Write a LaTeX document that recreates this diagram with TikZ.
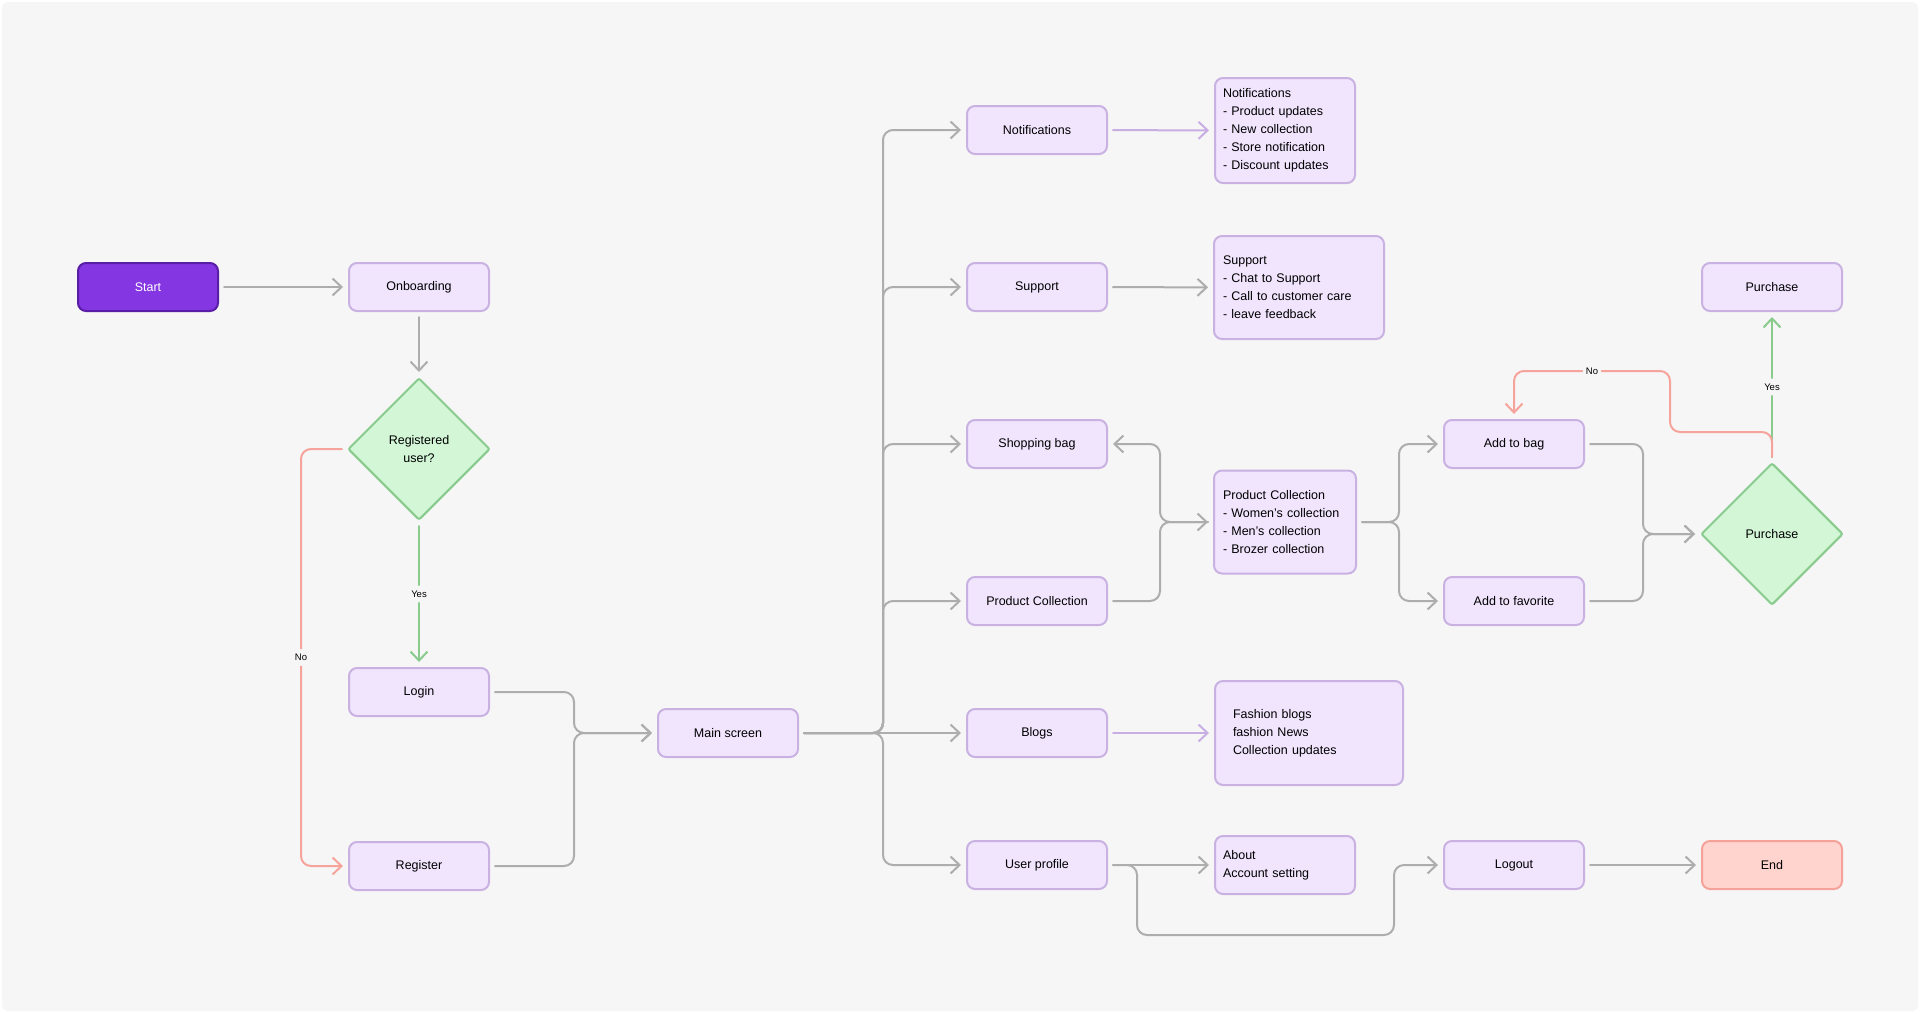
\documentclass[tikz,border=0pt]{standalone}
\usepackage{fontspec}
\setmainfont{Liberation Sans}
\usetikzlibrary{positioning,shapes.geometric,arrows.meta,calc}
\definecolor{bgc}{HTML}{F6F6F6}
\definecolor{boxfill}{HTML}{F1E4FD}
\definecolor{boxline}{HTML}{C9B2E2}
\definecolor{startfill}{HTML}{8436E2}
\definecolor{startline}{HTML}{5A1EA6}
\definecolor{decfill}{HTML}{D2F6D6}
\definecolor{decline}{HTML}{88CB8D}
\definecolor{endfill}{HTML}{FFD3CE}
\definecolor{endline}{HTML}{F5A39A}
\definecolor{flowgray}{HTML}{ADADAD}
\definecolor{flowred}{HTML}{F6A49B}
\definecolor{flowlilac}{HTML}{C8AEE3}
\tikzset{every picture/.style={>={Straight Barb[length=9pt,width=17pt]},line width=2pt}}
\tikzset{screen/.style={draw=boxline,fill=boxfill,rounded corners=8pt,minimum width=140pt,minimum height=48pt,font=\fontsize{12.5}{18}\selectfont}}
\tikzset{startbox/.style={screen,draw=startline,fill=startfill,text=white}}
\tikzset{endbox/.style={screen,draw=endline,fill=endfill}}
\tikzset{decision/.style={diamond,aspect=1,draw=decline,fill=decfill,minimum width=142pt,minimum height=142pt,inner sep=0pt,rounded corners=2pt,align=center,font=\fontsize{12.5}{18}\selectfont}}
\tikzset{detail/.style={screen,align=left}}
\tikzset{flow/.style={draw=flowgray,->,rounded corners=10pt,shorten >=5pt,shorten <=5pt,line cap=round}}
\tikzset{flowno/.style={flow,draw=flowred}}
\tikzset{flowyes/.style={flow,draw=decline}}
\tikzset{flowinfo/.style={flow,draw=flowlilac}}
\tikzset{tag/.style={fill=bgc,inner xsep=3pt,inner ysep=5pt,font=\fontsize{9.5}{10}\selectfont}}

\begin{document}
\begin{tikzpicture}[x=1pt,y=-1pt]
  \useasboundingbox (0,0) rectangle (1920,1013);
  \fill[white] (0,0) rectangle (1920,1013);
  \fill[bgc,rounded corners=6pt] (2,2) rectangle (1918,1011);

  % left part
  \node[startbox] (start) at (148,287) {Start};
  \node[screen] (onboard) at (419,287) {Onboarding};
  \node[decision] (registered) at (419,449) {Registered\\user?};
  \node[screen] (login) at (419,692) {Login};
  \node[screen] (register) at (419,866) {Register};
  \node[screen] (mainscreen) at (728,733) {Main screen};

  % menu
  \node[screen] (notif) at (1037,130) {Notifications};
  \node[screen] (support) at (1037,287) {Support};
  \node[screen] (bag) at (1037,444) {Shopping bag};
  \node[screen] (collection) at (1037,601) {Product Collection};
  \node[screen] (blogs) at (1037,733) {Blogs};
  \node[screen] (profile) at (1037,865) {User profile};

  % details
  \node[detail,text width=124pt,inner xsep=8pt,minimum height=105pt] (notifinfo) at (1285,130.5)
    {Notifications\\- Product updates\\- New collection\\- Store notification\\- Discount updates};
  \node[detail,text width=152pt,inner xsep=9pt,minimum height=103pt] (supportinfo) at (1299,287.5)
    {Support\\- Chat to Support\\- Call to customer care\\- leave feedback};
  \node[detail,text width=124pt,inner xsep=9pt,minimum height=103pt] (collinfo) at (1285,522)
    {Product Collection\\- Women’s collection\\- Men’s collection\\- Brozer collection};
  \node[detail,text width=152pt,inner xsep=18pt,minimum height=104pt] (bloginfo) at (1309,733)
    {Fashion blogs\\fashion News\\Collection updates};
  \node[detail,text width=124pt,inner xsep=7pt,minimum height=58pt] (aboutinfo) at (1285,865)
    {About\\Account setting};

  % right part
  \node[screen] (addbag) at (1514,444) {Add to bag};
  \node[screen] (addfav) at (1514,601) {Add to favorite};
  \node[decision] (buy) at (1772,534) {Purchase};
  \node[screen] (purchase) at (1772,287) {Purchase};
  \node[screen] (logout) at (1514,865) {Logout};
  \node[endbox] (finish) at (1772,865) {End};

  \coordinate (trunk) at (883,0);
  \coordinate (joinA) at (574,733);
  \coordinate (joinB) at (1160,522);
  \coordinate (splitC) at (1399,522);
  \coordinate (joinD) at (1643,534);
  \coordinate (loopE) at (1137,935);
  \coordinate (loopF) at (1394,865);
  \coordinate (backG) at (1670,371);

  \draw[flow] (start) -- (onboard);
  \draw[flow] (onboard) -- (registered);
  \draw[flowyes] (registered) -- node[tag] {Yes} (login);
  \draw[flowno] (registered.west) -- ++(-46,0) |- node[tag,pos=0.25] {No} (register.west);
  \draw[flow] (login.east) -| (joinA) -- (mainscreen.west);
  \draw[flow] (register.east) -| (joinA) -- (mainscreen.west);

  \foreach \n in {notif,support,bag,collection,profile}
    \draw[flow] (mainscreen.east) -- (trunk |- mainscreen.east) |- (\n.west);
  \draw[flow] (mainscreen) -- (blogs);

  \draw[flowinfo] (notif) -- (notifinfo);
  \draw[flow] (support) -- (supportinfo);
  \draw[flowinfo] (blogs) -- (bloginfo);
  \draw[flow] (profile) -- (aboutinfo);
  \draw[flow] (collection.east) -| (joinB) -- (collinfo.west);
  \draw[flow] (collinfo.west) -- (joinB) |- (bag.east);
  \draw[flow] (collinfo.east) -- (splitC) |- (addbag.west);
  \draw[flow] (collinfo.east) -- (splitC) |- (addfav.west);
  \draw[flow] (addbag.east) -| (joinD) -- (buy.west);
  \draw[flow] (addfav.east) -| (joinD) -- (buy.west);
  \draw[flowyes] (buy) -- node[tag] {Yes} (purchase);
  \draw[flowno] (buy.north) -- ++(0,-30) -| (backG) -| node[tag,pos=0.25] {No} (addbag.north);
  \draw[flow] (profile.east) -| (loopE) -| (loopF) -- (logout.west);
  \draw[flow] (logout) -- (finish);
\end{tikzpicture}
\end{document}
